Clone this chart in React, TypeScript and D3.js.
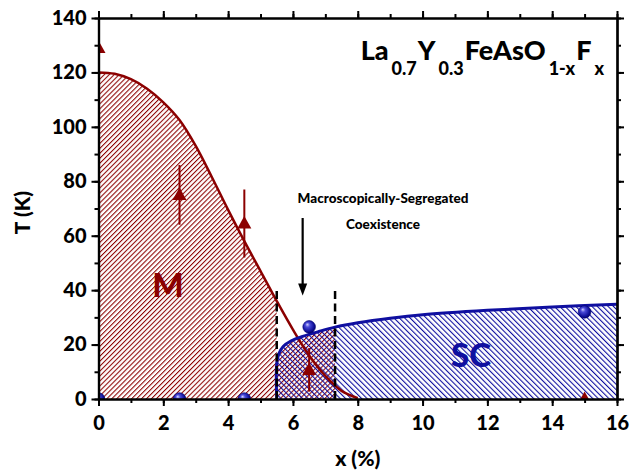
import React, { useEffect, useRef } from 'react';
import * as d3 from 'd3';

// magnetic (M) transition line
const mX = [0, 0.5, 1, 1.5, 2, 2.5, 3, 3.5, 4, 4.5, 5, 5.5, 6, 6.5, 7, 7.5, 8];
const mT = [120, 119.5, 117.5, 114, 109, 102.5, 93, 81.5, 69.5, 58, 47, 36, 25.5, 16, 8.5, 3, 0.3];

// superconducting (SC) dome boundary
const scX = [5.5, 5.5, 5.56, 5.7, 5.95, 6.3, 6.8, 7.3, 8, 9, 10, 12, 14, 16];
const scT = [0, 13, 16.5, 19.3, 21.4, 23, 24.8, 26.4, 28, 29.7, 31, 32.6, 33.8, 34.8];

// T_N points (triangles) with error bars
const triX = [0, 2.5, 4.5, 6.5, 15];
const triT = [129, 75, 64.5, 10.7, 0];
const triErr = [0, 11, 12.5, 8, 0];

// Tc points (spheres)
const sphX = [0, 2.5, 4.5, 6.5, 15];
const sphT = [0, 0, 0, 26.5, 32];

// coexistence boundaries and arrow
const coexX = [5.5, 7.3];
const coexTop = 40;
const arrowX = 6.3;
const arrowT = [66.5, 38];

const xTicks = [0, 2, 4, 6, 8, 10, 12, 14, 16];
const yTicks = [0, 20, 40, 60, 80, 100, 120, 140];
const annotation = ['Macroscopically-Segregated', 'Coexistence'];

const RED = '#8b0000';
const BLUE = '#0f0fa0';
const FONT = 'Lato, "Open Sans", sans-serif';
const WEIGHT = 900;

const App = () => {
  const ref = useRef<SVGSVGElement>(null);

  useEffect(() => {
    const width = 632;
    const height = 472;
    const left = 98.5, right = 617, top = 18, bottom = 399;

    const x = d3.scaleLinear().domain([0, 16]).range([left, right]);
    const y = d3.scaleLinear().domain([0, 140]).range([bottom, top]);

    const svg = d3.select(ref.current)
      .attr('width', width)
      .attr('height', height)
      .attr('viewBox', [0, 0, width, height] as any);
    svg.selectAll('*').remove();

    const defs = svg.append('defs');

    const redPat = defs.append('pattern')
      .attr('id', 'hatchM')
      .attr('patternUnits', 'userSpaceOnUse')
      .attr('width', 3.5).attr('height', 3.5)
      .attr('patternTransform', 'rotate(45)');
    redPat.append('rect').attr('width', 1.05).attr('height', 3.5).attr('fill', RED);

    const bluePat = defs.append('pattern')
      .attr('id', 'hatchSC')
      .attr('patternUnits', 'userSpaceOnUse')
      .attr('width', 3.8).attr('height', 3.8)
      .attr('patternTransform', 'rotate(-45)');
    bluePat.append('rect').attr('width', 1.1).attr('height', 3.8).attr('fill', BLUE);

    const grad = defs.append('radialGradient')
      .attr('id', 'sphere')
      .attr('cx', 0.45).attr('cy', 0.45).attr('r', 0.6)
      .attr('fx', 0.35).attr('fy', 0.3);
    grad.append('stop').attr('offset', 0).attr('stop-color', '#d0d0ff');
    grad.append('stop').attr('offset', 0.3).attr('stop-color', '#4a4ad8');
    grad.append('stop').attr('offset', 0.75).attr('stop-color', '#10109a');
    grad.append('stop').attr('offset', 1).attr('stop-color', '#000060');

    defs.append('clipPath').attr('id', 'plot')
      .append('rect')
      .attr('x', x(0)).attr('y', y(140))
      .attr('width', x(16) - x(0)).attr('height', y(0) - y(140));
    defs.append('clipPath').attr('id', 'leftM')
      .append('rect')
      .attr('x', x(0)).attr('y', y(140))
      .attr('width', x(coexX[0]) - x(0)).attr('height', y(0) - y(140));
    defs.append('clipPath').attr('id', 'coex')
      .append('rect')
      .attr('x', x(coexX[0])).attr('y', y(140))
      .attr('width', x(coexX[1]) - x(coexX[0])).attr('height', y(0) - y(140));

    const mData = mX.map((v, i) => [v, mT[i]]);
    const scData = scX.map((v, i) => [v, scT[i]]);
    const curve = d3.curveCatmullRom.alpha(0.5);

    const area = d3.area<number[]>()
      .x((d) => x(d[0]))
      .y0(y(0))
      .y1((d) => y(d[1]))
      .curve(curve);
    const line = d3.line<number[]>()
      .x((d) => x(d[0]))
      .y((d) => y(d[1]))
      .curve(curve);

    // hatched regions
    svg.append('path').attr('d', area(mData)).attr('fill', 'url(#hatchM)')
      .attr('clip-path', 'url(#leftM)');
    svg.append('path').attr('d', area(scData)).attr('fill', 'url(#hatchM)')
      .attr('clip-path', 'url(#coex)');
    svg.append('path').attr('d', area(scData)).attr('fill', 'url(#hatchSC)');

    // boundary lines
    svg.append('path').attr('d', line(mData)).attr('fill', 'none')
      .attr('stroke', RED).attr('stroke-width', 2.5);
    svg.append('path').attr('d', line(scData)).attr('fill', 'none')
      .attr('stroke', BLUE).attr('stroke-width', 3);

    // dashed coexistence limits
    svg.selectAll('line.coex')
      .data(coexX)
      .join('line')
      .attr('class', 'coex')
      .attr('x1', (d) => x(d)).attr('x2', (d) => x(d))
      .attr('y1', y(0)).attr('y2', y(coexTop))
      .attr('stroke', '#000').attr('stroke-width', 2.5)
      .attr('stroke-dasharray', '8,4.5');

    // markers
    const marks = svg.append('g').attr('clip-path', 'url(#plot)');
    marks.selectAll('line.err')
      .data(triX.map((v, i) => i).filter((i) => triErr[i] > 0))
      .join('line')
      .attr('class', 'err')
      .attr('x1', (i) => x(triX[i])).attr('x2', (i) => x(triX[i]))
      .attr('y1', (i) => y(triT[i] - triErr[i]))
      .attr('y2', (i) => y(triT[i] + triErr[i]))
      .attr('stroke', RED).attr('stroke-width', 2);
    marks.selectAll('path.tri')
      .data(triX.map((v, i) => [v, triT[i]]))
      .join('path')
      .attr('class', 'tri')
      .attr('d', 'M0,-7.5L7,5L-7,5Z')
      .attr('transform', (d) => `translate(${x(d[0])},${y(d[1])})`)
      .attr('fill', RED);
    marks.selectAll('circle.sph')
      .data(sphX.map((v, i) => [v, sphT[i]]))
      .join('circle')
      .attr('class', 'sph')
      .attr('cx', (d) => x(d[0])).attr('cy', (d) => y(d[1]))
      .attr('r', 6.3)
      .attr('fill', 'url(#sphere)')
      .attr('stroke', '#000070').attr('stroke-width', 0.6);

    // axes
    const axes = svg.append('g').attr('font-family', FONT);
    const minorX = d3.range(0, 17, 1);
    const minorY = d3.range(0, 141, 10);
    const styleAxis = (g: any) => {
      g.select('.domain').attr('stroke-width', 2.2);
      g.selectAll('.tick line').attr('stroke-width', 2);
      g.selectAll('.tick text')
        .attr('font-family', FONT).attr('font-weight', WEIGHT)
        .attr('font-size', 20).attr('fill', '#000');
    };
    axes.append('g').attr('transform', `translate(0,${y(0)})`)
      .call(d3.axisBottom(x).tickValues(minorX).tickSize(4).tickSizeOuter(0).tickFormat(() => ''))
      .call(styleAxis);
    axes.append('g').attr('transform', `translate(0,${y(0)})`)
      .call(d3.axisBottom(x).tickValues(xTicks).tickSize(7).tickSizeOuter(0).tickPadding(10).tickFormat(d3.format('d')))
      .call(styleAxis);
    axes.append('g').attr('transform', `translate(0,${y(140)})`)
      .call(d3.axisTop(x).tickValues(minorX).tickSize(4).tickSizeOuter(0).tickFormat(() => ''))
      .call(styleAxis);
    axes.append('g').attr('transform', `translate(0,${y(140)})`)
      .call(d3.axisTop(x).tickValues(xTicks).tickSize(7).tickSizeOuter(0).tickFormat(() => ''))
      .call(styleAxis);
    axes.append('g').attr('transform', `translate(${x(0)},0)`)
      .call(d3.axisLeft(y).tickValues(minorY).tickSize(4).tickSizeOuter(0).tickFormat(() => ''))
      .call(styleAxis);
    axes.append('g').attr('transform', `translate(${x(0)},0)`)
      .call(d3.axisLeft(y).tickValues(yTicks).tickSize(7).tickSizeOuter(0).tickPadding(5).tickFormat(d3.format('d')))
      .call(styleAxis);
    axes.append('g').attr('transform', `translate(${x(16)},0)`)
      .call(d3.axisRight(y).tickValues(minorY).tickSize(4).tickSizeOuter(0).tickFormat(() => ''))
      .call(styleAxis);
    axes.append('g').attr('transform', `translate(${x(16)},0)`)
      .call(d3.axisRight(y).tickValues(yTicks).tickSize(7).tickSizeOuter(0).tickFormat(() => ''))
      .call(styleAxis);

    // axis titles
    svg.append('text')
      .attr('x', (left + right) / 2).attr('y', 466)
      .attr('text-anchor', 'middle')
      .attr('font-family', FONT).attr('font-weight', WEIGHT).attr('font-size', 21)
      .text('x (%)');
    svg.append('text')
      .attr('transform', `translate(30,${(top + bottom) / 2 + 4}) rotate(-90)`)
      .attr('text-anchor', 'middle')
      .attr('font-family', FONT).attr('font-weight', WEIGHT).attr('font-size', 21)
      .text('T (K)');

    // region labels
    svg.append('text')
      .attr('x', 168).attr('y', 297)
      .attr('text-anchor', 'middle')
      .attr('font-family', FONT).attr('font-weight', WEIGHT).attr('font-size', 33)
      .attr('fill', RED)
      .text('M');
    svg.append('text')
      .attr('x', 471).attr('y', 367)
      .attr('text-anchor', 'middle')
      .attr('font-family', FONT).attr('font-weight', WEIGHT).attr('font-size', 33)
      .attr('fill', BLUE)
      .text('SC');

    // annotation + arrow
    svg.selectAll('text.ann')
      .data(annotation)
      .join('text')
      .attr('class', 'ann')
      .attr('x', 383)
      .attr('y', (d, i) => 203 + i * 26)
      .attr('text-anchor', 'middle')
      .attr('font-family', FONT).attr('font-weight', WEIGHT).attr('font-size', 13.5)
      .text((d) => d);
    svg.append('line')
      .attr('x1', x(arrowX)).attr('x2', x(arrowX))
      .attr('y1', y(arrowT[0])).attr('y2', y(arrowT[1]) - 10)
      .attr('stroke', '#000').attr('stroke-width', 2.2);
    svg.append('path')
      .attr('d', `M${x(arrowX) - 4.5},${y(arrowT[1]) - 12}L${x(arrowX) + 4.5},${y(arrowT[1]) - 12}L${x(arrowX)},${y(arrowT[1])}Z`)
      .attr('fill', '#000');

    // compound formula
    const title = svg.append('text')
      .attr('x', 603).attr('y', 60)
      .attr('text-anchor', 'end')
      .attr('font-family', FONT).attr('font-weight', WEIGHT).attr('font-size', 27);
    const parts: [string, boolean][] = [
      ['La', false], ['0.7', true], ['Y', false], ['0.3', true],
      ['FeAsO', false], ['1-x', true], ['F', false], ['x', true],
    ];
    parts.forEach(([s, sub], i) => {
      const prevSub = i > 0 && parts[i - 1][1];
      title.append('tspan')
        .attr('dy', sub ? 15 : prevSub ? -15 : 0)
        .attr('dx', sub ? 3 : 1)
        .attr('font-size', sub ? 18 : 27)
        .text(s);
    });
  }, []);

  return (
    <div style={{ position: 'absolute', left: 0, top: 0 }}>
      <svg ref={ref} style={{ display: 'block', background: '#fff' }}></svg>
    </div>
  );
};

export default App;
